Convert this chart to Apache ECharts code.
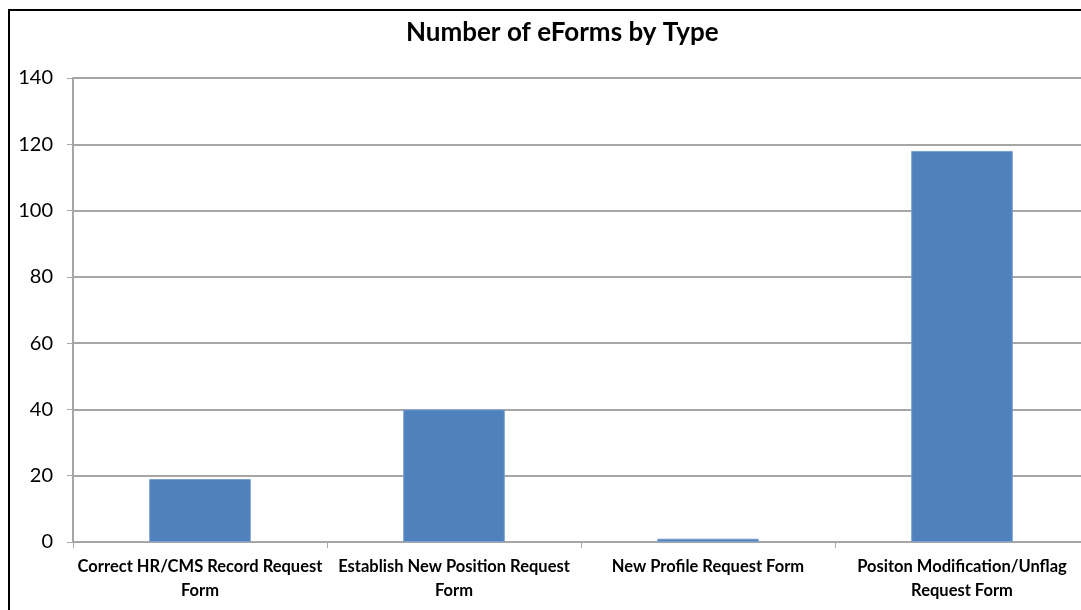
<!DOCTYPE html>
<html>
<head>
<meta charset="utf-8">
<title>Number of eForms by Type</title>
<script src="https://cdn.jsdelivr.net/npm/echarts@6/dist/echarts.min.js"></script>
<style>
  html, body { margin: 0; padding: 0; background: #ffffff; }
  #chart { width: 1081px; height: 610px; }
</style>
</head>
<body>
<div id="chart"></div>
<script>
// Form types and counts
const categories = [
  'Correct HR/CMS Record Request\nForm',
  'Establish New Position Request\nForm',
  'New Profile Request Form',
  'Positon Modification/Unflag\nRequest Form'
];
const counts = [19, 40, 1, 118];
const yTicks = [0, 20, 40, 60, 80, 100, 120, 140];

const chart = echarts.init(document.getElementById('chart'));

chart.setOption({
  backgroundColor: '#ffffff',
  animation: false,
  title: {
    text: 'Number of eForms by Type',
    left: 401,
    top: 15,
    textStyle: {
      fontFamily: 'Lato, sans-serif',
      fontWeight: 'bold',
      fontSize: 26,
      color: '#000000'
    }
  },
  graphic: [{
    type: 'rect',
    shape: { x: 9, y: 10, width: 1200, height: 700 },
    style: { fill: 'none', stroke: '#000000', lineWidth: 2 },
    silent: true
  }],
  grid: {
    left: 73,
    top: 78,
    right: -8,
    height: 464,
    containLabel: false,
    outerBoundsMode: 'none'
  },
  xAxis: {
    type: 'category',
    data: categories,
    axisLine: { show: true, lineStyle: { color: '#a6a6a6', width: 2 } },
    axisTick: { show: true, alignWithLabel: false, length: 6, lineStyle: { color: '#a6a6a6', width: 1 } },
    axisLabel: {
      interval: 0,
      margin: 13,
      fontFamily: 'Lato, sans-serif',
      fontWeight: 'bold',
      fontSize: 16.5,
      lineHeight: 24,
      color: '#000000'
    }
  },
  yAxis: {
    type: 'value',
    min: yTicks[0],
    max: yTicks[yTicks.length - 1],
    interval: yTicks[1] - yTicks[0],
    axisLine: { show: true, lineStyle: { color: '#a6a6a6', width: 2 } },
    axisTick: { show: true, length: 6, lineStyle: { color: '#a6a6a6', width: 1 } },
    splitLine: { show: true, lineStyle: { color: '#a6a6a6', width: 2 } },
    axisLabel: {
      margin: 20,
      fontFamily: 'Lato, sans-serif',
      fontSize: 20,
      color: '#000000'
    }
  },
  series: [{
    type: 'bar',
    data: counts,
    barWidth: '40%',
    itemStyle: { color: '#4f81bd', borderColor: '#7aa0d0', borderWidth: 1 }
  }]
});
</script>
</body>
</html>
